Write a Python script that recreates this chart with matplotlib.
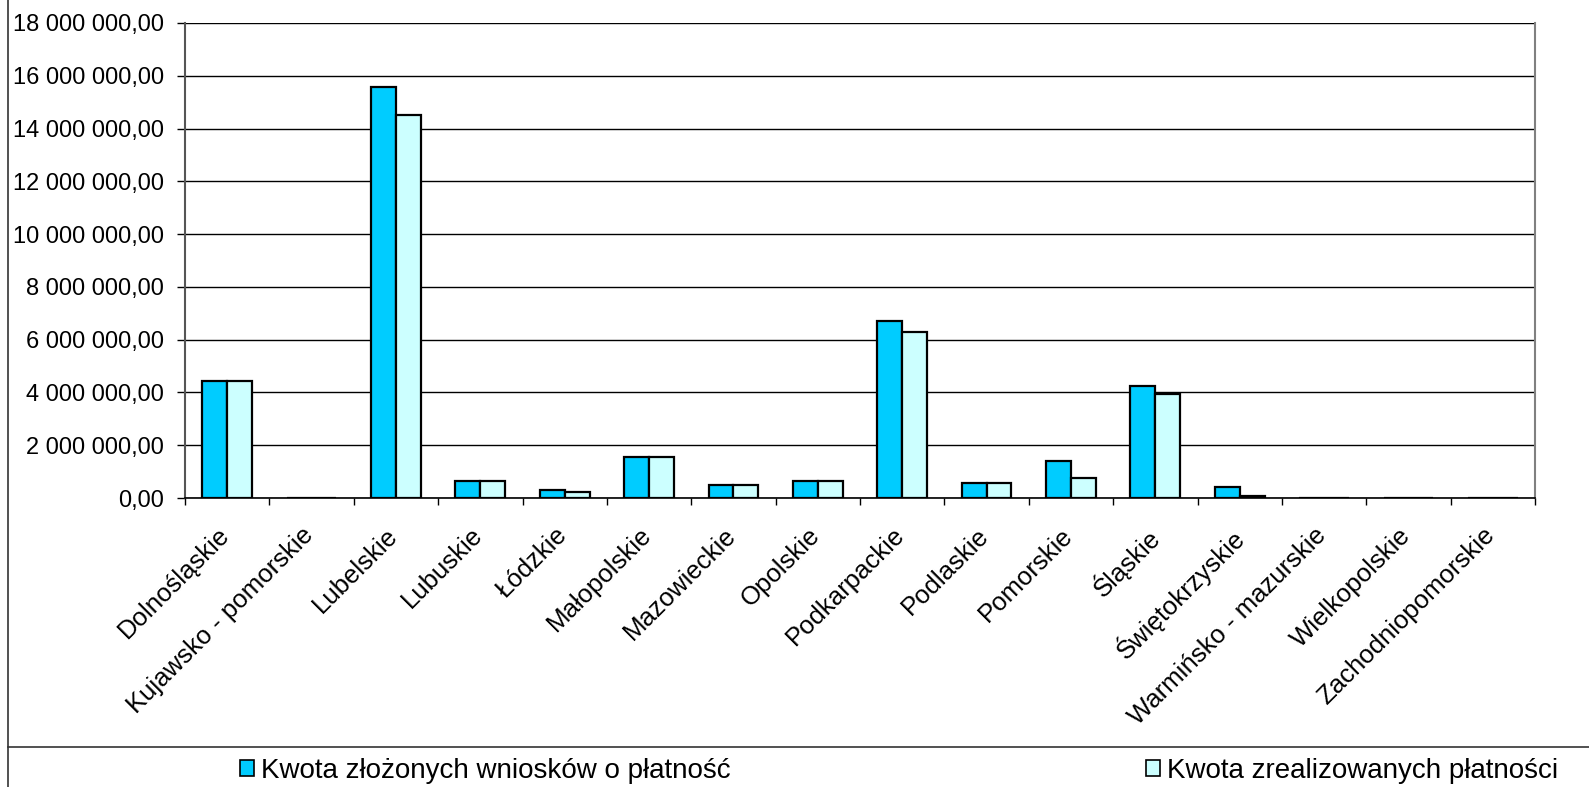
import numpy as np
import matplotlib
matplotlib.use("Agg")
import matplotlib.pyplot as plt
from matplotlib.lines import Line2D
from matplotlib.patches import Patch
from matplotlib.ticker import FuncFormatter, FixedLocator
from matplotlib.transforms import ScaledTranslation

plt.rcParams['font.family'] = ['Liberation Sans', 'DejaVu Sans']

regions = ['Dolnośląskie', 'Kujawsko - pomorskie', 'Lubelskie', 'Lubuskie', 'Łódzkie',
           'Małopolskie', 'Mazowieckie', 'Opolskie', 'Podkarpackie', 'Podlaskie',
           'Pomorskie', 'Śląskie', 'Świętokrzyskie', 'Warmińsko - mazurskie',
           'Wielkopolskie', 'Zachodniopomorskie']
# kwoty w zł
zlozone = [4450000, 0, 15580000, 650000, 300000, 1570000, 500000, 650000,
           6720000, 550000, 1420000, 4260000, 420000, 0, 0, 0]
zrealizowane = [4450000, 0, 14500000, 650000, 230000, 1570000, 500000, 650000,
                6300000, 550000, 770000, 3950000, 80000, 0, 0, 0]
series_names = ['Kwota złożonych wniosków o płatność', 'Kwota zrealizowanych płatności']
colors = ['#00CCFF', '#CCFFFF']

W, H = 1589, 787
fig = plt.figure(figsize=(W / 100, H / 100), dpi=100)
ax = fig.add_axes([185 / W, 1 - 498 / H, (1535 - 185) / W, (498 - 23) / H])

x = np.arange(len(regions))
w = 0.295
ax.bar(x - w / 2, zlozone, w, color=colors[0], edgecolor='black', linewidth=1.6, zorder=3)
ax.bar(x + w / 2, zrealizowane, w, color=colors[1], edgecolor='black', linewidth=1.6, zorder=3)

ax.set_xlim(-0.5, len(regions) - 0.5)
ax.set_ylim(0, 18000000)
ax.set_yticks(np.arange(0, 18000001, 2000000))
ax.yaxis.set_major_formatter(FuncFormatter(
    lambda v, p: '{:,.2f}'.format(v).replace(',', ' ').replace('.', ',')))
ax.grid(axis='y', color='black', linewidth=1, zorder=0)

ax.set_xticks(x)
ax.set_xticklabels(regions, rotation=45, ha='right', rotation_mode='anchor', fontsize=18.5)
ax.tick_params(axis='x', which='major', length=0, pad=18)
ax.xaxis.set_minor_locator(FixedLocator(np.arange(-0.5, len(regions), 1.0)))
ax.tick_params(axis='x', which='minor', length=5, width=1, direction='out')
ax.tick_params(axis='y', labelsize=17, length=6, width=1, direction='out', pad=9)
shift = ScaledTranslation(-0.10, 0, fig.dpi_scale_trans)
for lbl in ax.get_xticklabels():
    lbl.set_transform(lbl.get_transform() + shift)

ax.spines['top'].set_visible(False)
ax.spines['right'].set_color('#808080')
ax.spines['right'].set_linewidth(1.5)
ax.spines['left'].set_color('#555555')
ax.spines['left'].set_linewidth(1.5)
ax.spines['bottom'].set_linewidth(1.2)

# ramka wykresu i linia nad legenda
fig.add_artist(Line2D([8 / W, 8 / W], [0, 1], color='#333333', linewidth=1.2))
fig.add_artist(Line2D([8 / W, 1], [1 - 747 / H, 1 - 747 / H], color='#333333', linewidth=1.2))

for name, c, xpos in zip(series_names, colors, [240 / W, 1146 / W]):
    fig.legend(handles=[Patch(facecolor=c, edgecolor='black', linewidth=1.2)],
               labels=[name], loc='center left', bbox_to_anchor=(xpos, 1 - 771 / H),
               frameon=False, fontsize=20, handlelength=0.5, handleheight=0.5,
               handletextpad=0.25, borderpad=0, borderaxespad=0)

fig.savefig('out.png', dpi=100)
